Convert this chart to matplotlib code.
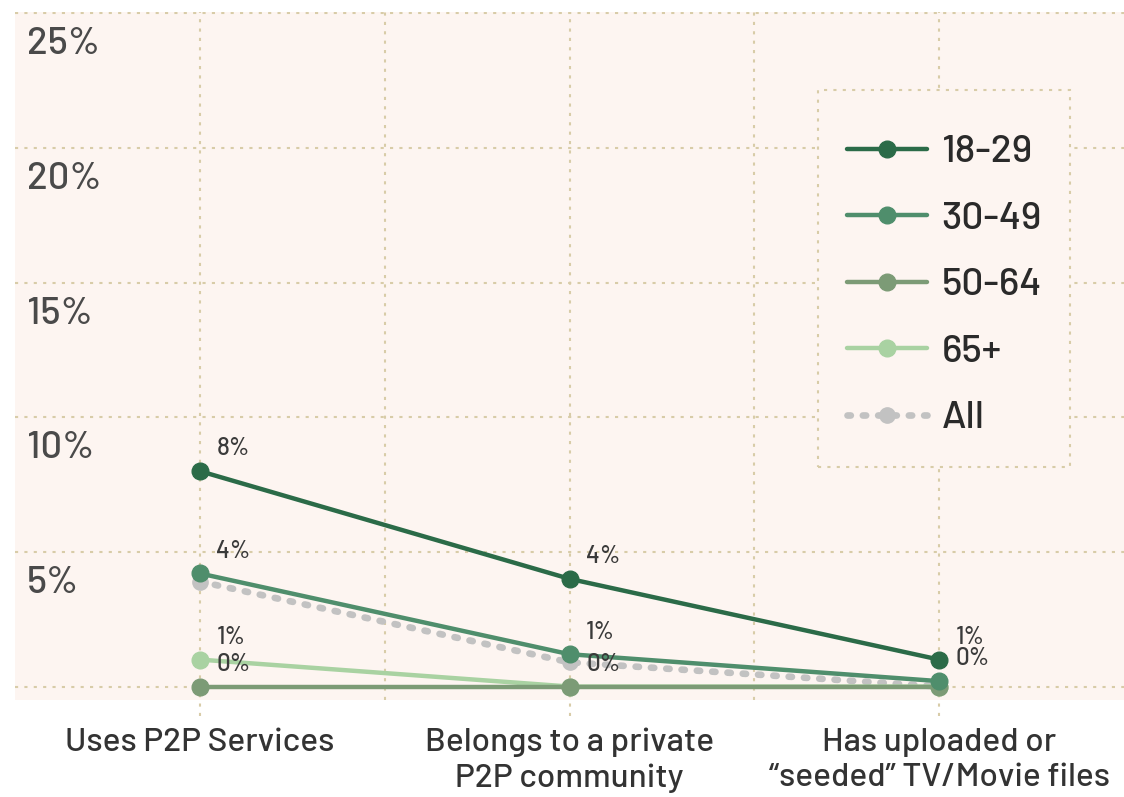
import matplotlib
matplotlib.use("Agg")
import matplotlib.pyplot as plt
from matplotlib.patches import Rectangle
import numpy as np

categories = ["Uses P2P Services", "Belongs to a private\nP2P community", "Has uploaded or\n\u201cseeded\u201d TV/Movie files"]
series_names = ["18-29", "30-49", "50-64", "65+", "All"]
v_18_29 = [8.0, 4.0, 1.0]
v_30_49 = [4.2, 1.2, 0.2]
v_50_64 = [0.0, 0.0, 0.0]
v_65p = [1.0, 0.0, 0.0]
v_all = [3.9, 0.9, 0.0]
labels_18_29 = ["8%", "4%", "1%"]
labels_30_49 = ["4%", "1%", "0%"]
labels_50_64 = ["0%", None, None]
labels_65p = ["1%", "0%", None]
labels_all = [None, None, None]
yticks = [5, 10, 15, 20, 25]

plt.rcParams['font.family'] = ['Barlow', 'DejaVu Sans']
plt.rcParams['font.weight'] = 500

fig = plt.figure(figsize=(11.24, 7.97), dpi=100)
ax = fig.add_axes([15/1124, 97/797, 1 - 15/1124, (700-12)/797])
ax.set_facecolor("#fdf5f1")
grid_c = "#d8cca8"
dot = (0, (1.5, 3))

x = np.arange(len(categories))
colors = ["#2b6b48", "#4f8e6c", "#7c9b76", "#a9d2a2", "#c2c2c2"]
data = [v_18_29, v_30_49, v_50_64, v_65p, v_all]
labs = [labels_18_29, labels_30_49, labels_50_64, labels_65p, labels_all]

order = [4, 2, 3, 1, 0]
handles = {}
for i in order:
    if series_names[i] == "All":
        h, = ax.plot(x, data[i], color=colors[i], lw=4.8, ls=(0, (0.5, 1.8)), dash_capstyle='round',
                     marker='o', ms=11, zorder=3, label=series_names[i])
    else:
        h, = ax.plot(x, data[i], color=colors[i], lw=3.2, marker='o', ms=12,
                     solid_capstyle='round', zorder=4 + (4 - i), label=series_names[i])
    handles[i] = h
    for xi, yi, t in zip(x, data[i], labs[i]):
        if t:
            ax.annotate(t, (xi, yi), xytext=(12, 16), textcoords='offset points',
                        fontsize=17.5, color="#3a3a3a", va='center', ha='left', zorder=10)

ax.set_xlim(-0.5, 2.5)
ax.set_ylim(-0.5, 25.05)
ax.set_xticks(x)
ax.set_xticklabels(categories, fontsize=24, color="#333333", linespacing=1.25)
ax.set_yticks([])
ax.tick_params(axis='x', length=0, pad=20)
for s in ax.spines.values():
    s.set_visible(False)

for gx in np.arange(0.0, 2.01, 0.5):
    if gx in (0.0, 1.0, 2.0):
        ax.plot([gx, gx], [-1.1, 25.05], color=grid_c, lw=1.5, ls=dot, zorder=1, clip_on=False)
    else:
        ax.plot([gx, gx], [-0.5, 25.05], color=grid_c, lw=1.5, ls=dot, zorder=1)
for gy in [0] + yticks:
    ax.axhline(gy, color=grid_c, lw=1.5, ls=dot, zorder=1)

for t in yticks:
    ax.text(0.011, t - 1.15, f"{t}%", transform=ax.get_yaxis_transform(),
            fontsize=27.5, color="#4a4a4a", va='center', ha='left', zorder=2)

box = Rectangle((818/1124, 1 - 467/797), 252/1124, 377/797, transform=fig.transFigure,
                facecolor="#fdf5f1", edgecolor=grid_c, linestyle=dot, linewidth=1.5, zorder=4)
fig.add_artist(box)

leg = fig.legend([handles[i] for i in range(5)], series_names, loc='upper left',
                 bbox_to_anchor=(847/1124, 1 - 135/797), bbox_transform=fig.transFigure,
                 fontsize=28, frameon=False, handlelength=2.05, labelspacing=0.83,
                 borderpad=0, handletextpad=0.38, borderaxespad=0)
leg.set_zorder(5)
for txt in leg.get_texts():
    txt.set_color("#2a2a2a")

fig.savefig("out.png", dpi=100, facecolor="white")
